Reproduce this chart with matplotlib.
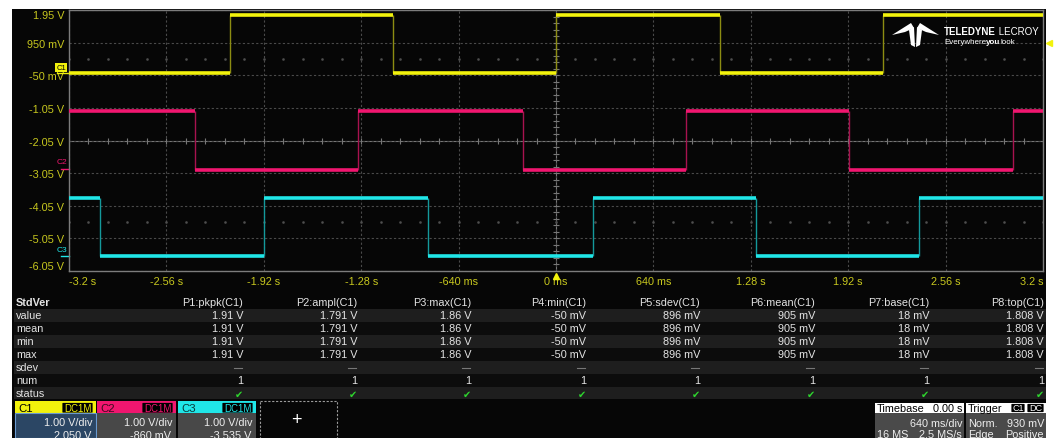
import matplotlib
matplotlib.use("Agg")
import matplotlib.pyplot as plt
import numpy as np
from matplotlib import transforms, font_manager
from matplotlib.patches import Rectangle, FancyBboxPatch, Polygon

plt.rcParams['font.family'] = ['Liberation Sans', 'DejaVu Sans']

W, H = 1059, 439

# horizontal axis: 640 ms/div, trigger at 0
time_ticks = [-3.2, -2.56, -1.92, -1.28, -0.64, 0.0, 0.64, 1.28, 1.92, 2.56, 3.2]
time_labels = ["-3.2 s", "-2.56 s", "-1.92 s", "-1.28 s", "-640 ms", "0 ms",
               "640 ms", "1.28 s", "1.92 s", "2.56 s", "3.2 s"]
# vertical axis in divisions (1 V/div), labelled with C1 volts
div_ticks = [4, 3, 2, 1, 0, -1, -2, -3, -4]
volt_labels = ["1.95 V", "950 mV", "-50 mV", "-1.05 V", "-2.05 V",
               "-3.05 V", "-4.05 V", "-5.05 V", "-6.05 V"]

# channels
chan_names = ["C1", "C2", "C3"]
chan_offsets = [2.050, -0.860, -3.535]  # V
chan_low = [0.01, -0.03, 0.0]
chan_high = [1.80, 1.76, 1.78]
chan_start_high = [False, True, True]
c1_edges = [-2.141, -1.069, 0.0, 1.075, 2.148]
c2_edges = [-2.371, -1.299, -0.220, 0.852, 1.924, 3.003]
c3_edges = [-2.996, -1.917, -0.839, 0.240, 1.312, 2.384]
chan_edges = [c1_edges, c2_edges, c3_edges]
chan_colors = ["#f2f20c", "#f0166f", "#20e6e8"]
edge_colors = ["#8c8c12", "#a8124f", "#14999b"]

# measurement table
meas_names = ["P1:pkpk(C1)", "P2:ampl(C1)", "P3:max(C1)", "P4:min(C1)",
              "P5:sdev(C1)", "P6:mean(C1)", "P7:base(C1)", "P8:top(C1)"]
meas_values = ["1.91 V", "1.791 V", "1.86 V", "-50 mV",
               "896 mV", "905 mV", "18 mV", "1.808 V"]
meas_num = [1, 1, 1, 1, 1, 1, 1, 1]
stat_rows = ["value", "mean", "min", "max", "sdev", "num", "status"]

# channel descriptor boxes
chan_vdiv = ["1.00 V/div", "1.00 V/div", "1.00 V/div"]
chan_offset_text = ["2.050 V", "-860 mV", "-3.535 V"]

fig = plt.figure(figsize=(W / 100, H / 100), dpi=100)
fig.patch.set_facecolor("white")

# pixel overlay (background)
ov = fig.add_axes([0, 0, 1, 1], zorder=0)
ov.set_xlim(0, W)
ov.set_ylim(H, 0)
ov.axis("off")
ov.add_patch(Rectangle((12, 10), 1034, 429, facecolor="#060606", edgecolor="none"))

# scope grid
L, R, T, B = 69, 1043, 11, 272
ax = fig.add_axes([L / W, 1 - B / H, (R - L) / W, (B - T) / H], zorder=2)
ax.set_facecolor("none")
ax.set_xlim(-3.2, 3.2)
ax.set_ylim(-4, 4)
ax.set_xticks(time_ticks)
ax.set_xticklabels(time_labels)
ax.set_yticks(div_ticks)
ax.set_yticklabels(volt_labels)
ax.tick_params(length=0, labelsize=7.8, colors="#c8c81e", pad=3.5)
ax.get_xticklabels()[0].set_ha("left")
ax.get_xticklabels()[-1].set_ha("right")
ax.get_yticklabels()[0].set_va("top")
ax.get_yticklabels()[-1].set_va("bottom")
ax.grid(True, color="#4a4a4a", linestyle=(0, (2, 2)), lw=0.8)
for s in ax.spines.values():
    s.set_color("#7c7c7c")
    s.set_linewidth(1.0)
ax.axhline(0, color="#777777", lw=0.8, zorder=1)
ax.axvline(0, color="#777777", lw=0.8, zorder=1)
minor_t = np.arange(-3.2, 3.2001, 0.128)
minor_d = np.arange(-4, 4.001, 0.2)
ax.plot(minor_t, np.zeros_like(minor_t), ls="none", marker="|", ms=4, mew=0.8, color="#777777")
ax.plot(np.zeros_like(minor_d), minor_d, ls="none", marker="_", ms=4, mew=0.8, color="#777777")
for yy in (2.5, -2.5):
    ax.plot(minor_t, np.full_like(minor_t, yy), ls="none", marker="s", ms=0.8, color="#4e4e4e")

# traces
for name, off, lo, hi, sh, edges, col, ecol in zip(chan_names, chan_offsets, chan_low, chan_high,
                                                   chan_start_high, chan_edges, chan_colors, edge_colors):
    bounds = [-3.2] + edges + [3.2]
    levels = []
    for i in range(len(bounds) - 1):
        high = sh if i % 2 == 0 else (not sh)
        levels.append((hi if high else lo) + off)
    ax.vlines(edges, [lo + off] * len(edges), [hi + off] * len(edges), color=ecol, lw=1.0, zorder=3)
    ax.hlines(levels, bounds[:-1], bounds[1:], color=col, lw=2.6, zorder=4)

# channel zero markers at the left edge
bt = transforms.blended_transform_factory(ax.transAxes, ax.transData)
ax.text(-0.003, chan_offsets[0] + 0.2, "C1", transform=bt, ha="right", va="center", fontsize=5.5,
        color="black", clip_on=False,
        bbox=dict(boxstyle="square,pad=0.12", facecolor=chan_colors[0], edgecolor="none"))
ax.plot([-0.012, 0.0], [chan_offsets[0] + 0.03] * 2, transform=bt, color=chan_colors[0], lw=1, clip_on=False)
for i in (1, 2):
    ax.text(-0.002, chan_offsets[i] + 0.1, chan_names[i], transform=bt, ha="right", va="bottom",
            fontsize=6, color=chan_colors[i], clip_on=False)
    ax.plot([-0.008, 0.0], [chan_offsets[i]] * 2, transform=bt, color=chan_colors[i], lw=1, clip_on=False)

# trigger markers
ax.plot([0.0], [-0.018], transform=transforms.blended_transform_factory(ax.transData, ax.transAxes),
        marker="^", ms=5, color="#f2f20c", clip_on=False, zorder=6)
ax.plot([1.006], [0.930 + chan_offsets[0]], transform=bt, marker="<", ms=5, color="#f2f20c",
        clip_on=False, zorder=6)

# overlay on top: logo, table, boxes
top = fig.add_axes([0, 0, 1, 1], zorder=5)
top.set_xlim(0, W)
top.set_ylim(H, 0)
top.axis("off")
top.patch.set_alpha(0)

for poly in ([(892, 36), (911, 24), (914, 29), (905, 33)],
             [(939, 36), (920, 24), (917, 29), (926, 33)],
             [(909, 31), (914, 28), (915, 48), (911, 46)],
             [(922, 31), (917, 28), (916, 48), (920, 46)]):
    top.add_patch(Polygon(poly, closed=True, facecolor="white", edgecolor="none"))

try:
    font_manager.findfont("Liberation Sans Narrow", fallback_to_default=False)
    logo_font = ["Liberation Sans Narrow", "Liberation Sans"]
    logo_sizes = (8.6, 7.0)
except ValueError:
    logo_font = ["Liberation Sans", "DejaVu Sans"]
    logo_sizes = (7.0, 5.8)

renderer = fig.canvas.get_renderer()


def text_run(x, y, pieces, size):
    # place text pieces side by side, measuring each
    for s, weight in pieces:
        t = top.text(x, y, s, fontsize=size, fontweight=weight, color="white", ha="left",
                     va="center", family=logo_font)
        bb = t.get_window_extent(renderer=renderer)
        x += bb.width


text_run(944, 32, [("TELEDYNE", "bold"), (" LECROY", "normal")], logo_sizes[0])
text_run(944, 42, [("Everywhere", "normal"), ("you", "bold"), ("look", "normal")], logo_sizes[1])

# measurement table
col_right = [243, 357, 471, 586, 700, 815, 929, 1044]
row_y0 = 310
row_h = 13
txt = "#e4e4e4"
for r, name in enumerate(stat_rows):
    y0 = row_y0 + r * row_h
    top.add_patch(Rectangle((14, y0), 1032, row_h - 0.5,
                            facecolor="#1e1e1e" if r % 2 == 0 else "#0c0c0c", edgecolor="none"))
    top.text(16, y0 + row_h / 2, name, fontsize=7.8, color=txt, ha="left", va="center")
top.text(16, 303, "StdVer", fontsize=7.8, fontweight="bold", color=txt, ha="left", va="center")
for c, (mn, mv, num) in enumerate(zip(meas_names, meas_values, meas_num)):
    xr = col_right[c]
    top.text(xr, 303, mn, fontsize=7.8, color=txt, ha="right", va="center")
    for r in range(4):
        top.text(xr, row_y0 + r * row_h + row_h / 2, mv, fontsize=7.8, color=txt, ha="right", va="center")
    top.plot([xr - 9, xr - 1], [row_y0 + 4 * row_h + 7] * 2, color="#777777", lw=0.8)
    top.text(xr, row_y0 + 5 * row_h + row_h / 2, str(num), fontsize=7.8, color=txt, ha="right", va="center")
    top.text(xr - 4, row_y0 + 6 * row_h + row_h / 2, "\u2714", fontsize=7, color="#2ed52e",
             ha="center", va="center")

# channel descriptor boxes
box_x = [(15, 96), (97, 176), (178, 256)]
hdr_text = ["black", "#3a0a1e", "#0a3a3a"]
body_col = ["#2b4664", "#484848", "#484848"]
for i, (x0, x1) in enumerate(box_x):
    top.add_patch(Rectangle((x0, 402.5), x1 - x0, 12, facecolor=chan_colors[i], edgecolor="none"))
    top.add_patch(Rectangle((x0, 414.5), x1 - x0, 25, facecolor=body_col[i],
                            edgecolor="#6a9ad0" if i == 0 else "none", lw=0.8))
    top.text(x0 + 3, 409, chan_names[i], fontsize=8.2, color=hdr_text[i], ha="left", va="center")
    top.add_patch(FancyBboxPatch((x1 - 33, 404.5), 29, 8.5, boxstyle="round,pad=0.6",
                                 facecolor="black", edgecolor="none"))
    top.text(x1 - 18.5, 409, "DC1M", fontsize=7, color=chan_colors[i], ha="center", va="center")
    top.text(x1 - 4, 423, chan_vdiv[i], fontsize=7.8, color="#eeeeee", ha="right", va="center")
    top.text(x1 - 5, 436, chan_offset_text[i], fontsize=7.8, color="#eeeeee", ha="right", va="center")

top.add_patch(Rectangle((260, 402.5), 77, 40, facecolor="none", edgecolor="#9a9a9a",
                        lw=0.8, linestyle=(0, (2, 1.5))))
top.text(296, 421, "+", fontsize=13, color="white", ha="center", va="center")

# timebase and trigger
top.add_patch(Rectangle((875, 404), 89, 10, facecolor="white", edgecolor="none"))
top.add_patch(Rectangle((875, 414), 89, 25, facecolor="#4a4a4a", edgecolor="none"))
top.text(877, 409, "Timebase", fontsize=7.8, color="black", ha="left", va="center")
top.text(962, 409, "0.00 s", fontsize=7.8, color="black", ha="right", va="center")
top.text(962, 424, "640 ms/div", fontsize=7.8, color="#eeeeee", ha="right", va="center")
top.text(877, 435, "16 MS", fontsize=7.8, color="#eeeeee", ha="left", va="center")
top.text(962, 435, "2.5 MS/s", fontsize=7.8, color="#eeeeee", ha="right", va="center")

top.add_patch(Rectangle((966, 404), 80, 10, facecolor="white", edgecolor="none"))
top.add_patch(Rectangle((966, 414), 80, 25, facecolor="#4a4a4a", edgecolor="none"))
top.text(968, 409, "Trigger", fontsize=7.8, color="black", ha="left", va="center")
top.add_patch(FancyBboxPatch((1012, 405.5), 12, 7, boxstyle="round,pad=0.6", facecolor="black", edgecolor="none"))
top.add_patch(FancyBboxPatch((1028, 405.5), 15, 7, boxstyle="round,pad=0.6", facecolor="black", edgecolor="none"))
top.text(1018, 409, "C1", fontsize=6.5, color="white", ha="center", va="center")
top.text(1035.5, 409, "DC", fontsize=6.5, color="white", ha="center", va="center")
top.text(968, 424, "Norm.", fontsize=7.8, color="#eeeeee", ha="left", va="center")
top.text(1044, 424, "930 mV", fontsize=7.8, color="#eeeeee", ha="right", va="center")
top.text(968, 435, "Edge", fontsize=7.8, color="#eeeeee", ha="left", va="center")
top.text(1044, 435, "Positive", fontsize=7.8, color="#eeeeee", ha="right", va="center")

fig.savefig("out.png", dpi=100, facecolor=fig.get_facecolor())
